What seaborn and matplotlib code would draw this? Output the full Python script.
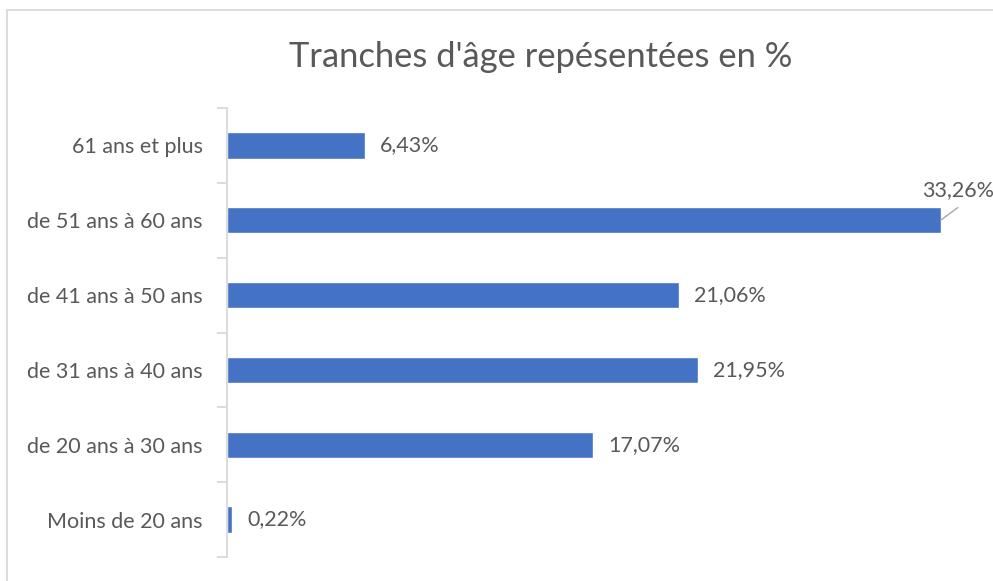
import numpy as np
import pandas as pd
import matplotlib.pyplot as plt
import seaborn as sns
from matplotlib.patches import Rectangle

categories = ["61 ans et plus", "de 51 ans à 60 ans", "de 41 ans à 50 ans",
              "de 31 ans à 40 ans", "de 20 ans à 30 ans", "Moins de 20 ans"]
values = [6.43, 33.26, 21.06, 21.95, 17.07, 0.22]
title = "Tranches d'âge repésentées en %"

df = pd.DataFrame({"tranche": categories, "pct": values})

sns.set_style("white")
plt.rcParams['font.family'] = ['Lato', 'DejaVu Sans']
txt = "#595959"
grey = "#D9D9D9"

fig = plt.figure(figsize=(9.93, 5.81), dpi=100)
ax = fig.add_axes([227 / 993, 1 - 557 / 581, (978 - 227) / 993, (557 - 108) / 581])

sns.barplot(data=df, x="pct", y="tranche", color="#4472C4", width=0.35,
            saturation=1, ax=ax)

ax.set_xlim(0, 35)
ax.set_ylim(5.5, -0.5)
ax.set_xlabel("")
ax.set_ylabel("")
ax.set_xticks([])
for s in ["top", "right", "bottom"]:
    ax.spines[s].set_visible(False)
ax.spines["left"].set_color(grey)
ax.spines["left"].set_linewidth(1.3)
ax.tick_params(axis="y", which="major", left=False, length=0, pad=17.5,
               labelsize=15.5, labelcolor=txt)
ax.set_yticks(np.arange(-0.5, 6, 1), minor=True)
ax.tick_params(axis="y", which="minor", left=True, length=7, color=grey, width=1.3)

# étiquettes de données
labels = [f"{v:.2f}%".replace(".", ",") for v in values]
shown = [l if v < 30 else "" for l, v in zip(labels, values)]
ax.bar_label(ax.containers[0], labels=shown, padding=11, fontsize=15.5, color=txt)

# la plus grande valeur : étiquette déportée avec trait de rappel
i = values.index(max(values))
ax.plot([values[i], values[i] + 0.8], [i, i - 0.17], color="#A6A6A6", lw=1,
        clip_on=False)
ax.text(values[i] + 0.8, i - 0.40, labels[i], ha="center", va="center",
        fontsize=15.5, color=txt, clip_on=False)

fig.text(541 / 993, 1 - 57 / 581, title, ha="center", va="center",
         fontsize=24.8, color=txt)

fig.patches.append(Rectangle((7 / 993, -0.1), 1.2, 1 - 10 / 581 + 0.1,
                             transform=fig.transFigure, fill=False,
                             edgecolor=grey, lw=1.3))

fig.savefig("out.png", dpi=100)
